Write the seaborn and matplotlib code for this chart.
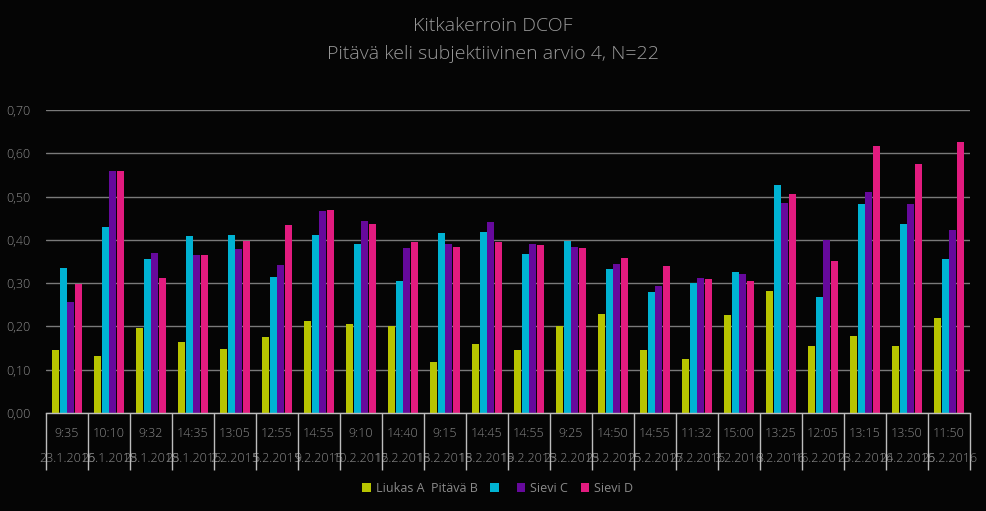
import matplotlib
matplotlib.use("Agg")
import matplotlib.pyplot as plt
import matplotlib.ticker as mticker
import seaborn as sns
import pandas as pd
import numpy as np

times = ["9:35", "10:10", "9:32", "14:35", "13:05", "12:55", "14:55", "9:10", "14:40", "9:15", "14:45",
         "14:55", "9:25", "14:50", "14:55", "11:32", "15:00", "13:25", "12:05", "13:15", "13:50", "11:50"]
dates = ["23.1.2015", "26.1.2015", "28.1.2015", "28.1.2015", "2.2.2015", "5.2.2015", "9.2.2015", "10.2.2015",
         "12.2.2015", "18.2.2015", "18.2.2015", "19.2.2015", "23.2.2015", "23.2.2015", "25.2.2015", "27.2.2015",
         "3.2.2016", "3.2.2016", "16.2.2016", "23.2.2016", "24.2.2016", "25.2.2016"]

series_names = ["Liukas A", "Pitävä B", "Sievi C", "Sievi D"]
legend_labels = ["Liukas A  Pitävä B", "", "Sievi C", "Sievi D"]

liukas_a = [0.145, 0.132, 0.196, 0.164, 0.149, 0.176, 0.212, 0.205, 0.200, 0.117, 0.160,
            0.145, 0.200, 0.229, 0.145, 0.125, 0.227, 0.282, 0.154, 0.178, 0.154, 0.219]
pitava_b = [0.334, 0.429, 0.356, 0.410, 0.411, 0.314, 0.411, 0.391, 0.305, 0.415, 0.418,
            0.367, 0.398, 0.332, 0.280, 0.300, 0.325, 0.527, 0.268, 0.482, 0.437, 0.355]
sievi_c = [0.256, 0.558, 0.370, 0.365, 0.379, 0.341, 0.466, 0.444, 0.381, 0.390, 0.441,
           0.390, 0.383, 0.344, 0.294, 0.313, 0.322, 0.486, 0.400, 0.510, 0.482, 0.422]
sievi_d = [0.297, 0.559, 0.311, 0.365, 0.398, 0.435, 0.468, 0.437, 0.395, 0.384, 0.394,
           0.388, 0.381, 0.358, 0.339, 0.310, 0.304, 0.505, 0.351, 0.617, 0.575, 0.625]

colors = ["#b7c400", "#00b3d3", "#66099c", "#e21b7f"]
yticks = [0.0, 0.1, 0.2, 0.3, 0.4, 0.5, 0.6, 0.7]

title = "Kitkakerroin DCOF\nPitävä keli subjektiivinen arvio 4, N=22"

cats = [f"{t}\n{d}" for t, d in zip(times, dates)]
values = [liukas_a, pitava_b, sievi_c, sievi_d]
rows = []
for name, vals in zip(series_names, values):
    for c, v in zip(cats, vals):
        rows.append({"cat": c, "series": name, "value": v})
df = pd.DataFrame(rows)

sns.set_theme(style="dark")
plt.rcParams["font.family"] = ["Open Sans", "DejaVu Sans"]
text_col = "#8a8a8a"
bg = "#050505"

fig = plt.figure(figsize=(9.86, 5.11), dpi=100, facecolor=bg)
ax = fig.add_axes([46 / 986, (511 - 413) / 511, (970 - 46) / 986, (413 - 110) / 511])
ax.set_facecolor(bg)

sns.barplot(data=df, x="cat", y="value", hue="series", order=cats, hue_order=series_names,
            palette=colors, width=0.74, gap=0.12, saturation=1, linewidth=0, edgecolor="none",
            ax=ax, legend=True)

ax.set_xlim(-0.5, len(cats) - 0.5)
ax.set_ylim(0, 0.70)
ax.yaxis.set_major_locator(mticker.FixedLocator(yticks))
ax.yaxis.set_major_formatter(mticker.FuncFormatter(lambda v, p: f"{v:.2f}".replace(".", ",")))
ax.grid(axis="y", color="#7a7a7a", linewidth=1.0)
ax.grid(axis="x", visible=False)
ax.set_axisbelow(True)
for s in ["top", "right", "left"]:
    ax.spines[s].set_visible(False)
ax.spines["bottom"].set_color("#bdbdbd")
ax.spines["bottom"].set_linewidth(1.0)

ax.set_xlabel("")
ax.set_ylabel("")
ax.tick_params(axis="y", length=0, pad=11, labelsize=9, labelcolor=text_col)
ax.tick_params(axis="x", which="major", bottom=False, length=0, pad=10, labelsize=9, labelcolor=text_col)
for lbl in ax.get_xticklabels():
    lbl.set_linespacing(2.25)
    lbl.set_fontweight("light")
for lbl in ax.get_yticklabels():
    lbl.set_fontweight("light")

ax.xaxis.set_minor_locator(mticker.FixedLocator(np.arange(-0.5, len(cats), 1.0)))
ax.tick_params(axis="x", which="minor", bottom=True, length=41, width=1.0, color="#bdbdbd",
               direction="out")

handles, _ = ax.get_legend_handles_labels()
if ax.get_legend() is not None:
    ax.get_legend().remove()
leg = fig.legend(handles, legend_labels, loc="center", bbox_to_anchor=(0.505, 0.045), ncol=4,
                 frameon=False, fontsize=9, handlelength=0.7, handleheight=0.7,
                 handletextpad=0.4, columnspacing=1.0, labelcolor=text_col)

fig.text(0.5, 0.922, title, ha="center", va="center", fontsize=14, color="#9a9a9a",
         fontweight="light", linespacing=1.7)

fig.savefig("out.png", dpi=100, facecolor=bg)
